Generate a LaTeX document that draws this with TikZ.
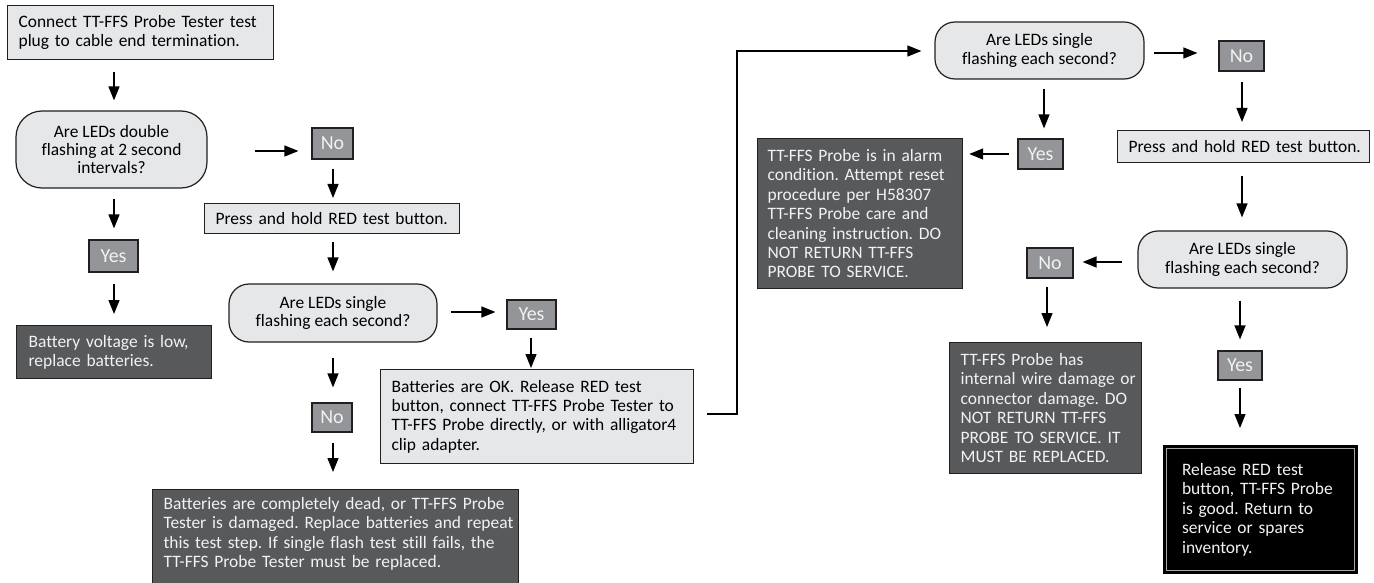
\documentclass[tikz,border=0pt]{standalone}
\usepackage{fontspec}
\setmainfont{Carlito}[Ligatures={NoCommon}]
\usetikzlibrary{arrows.meta}
\definecolor{lightfill}{HTML}{E6E7E8}
\definecolor{ynfill}{HTML}{939598}
\definecolor{darkfill}{HTML}{58595B}
\definecolor{edge}{HTML}{231F20}
\definecolor{lighttext}{HTML}{F1F2F2}
\newcommand{\oneline}[1]{\mbox{#1}}
\begin{document}
\frenchspacing
\begin{tikzpicture}[x=1bp,y=-1bp,
  base/.style={draw=edge, line width=1.2bp, inner ysep=0bp},
  txt/.style={font=\fontsize{17.5}{19.5}\selectfont\frenchspacing},
  lightbox/.style={base, txt, fill=lightfill, align=left, anchor=north west, inner xsep=11bp},
  darkbox/.style={base, txt, fill=darkfill, text=lighttext, align=left, anchor=north west, inner xsep=11bp},
  decision/.style={base, fill=lightfill, align=center, rounded corners=20bp, font=\fontsize{17.5}{18.5}\selectfont\frenchspacing},
  yn/.style={base, fill=ynfill, text=lighttext, inner sep=0bp, font=\fontsize{20}{20}\selectfont},
  arr/.style={-{Triangle[length=14bp,width=11bp]}, line width=1.3bp, black},
  gaps/.style 2 args={shorten <=#1bp, shorten >=#2bp},
]
\fill[white] (0,0) rectangle (1374,583);
\useasboundingbox (0,0) rectangle (1374,583);

% column / row guides
\coordinate (c1) at (114,0);
\coordinate (c2) at (333,0);
\coordinate (c3) at (531,0);
\coordinate (c4) at (1044,0);
\coordinate (c5) at (1242,0);
\coordinate (c6) at (1240,0);
\coordinate (c7) at (1047,0);
\coordinate (cl) at (737,0);
\coordinate (r1) at (0,151);
\coordinate (r2) at (0,312);
\coordinate (r3) at (0,154);
\coordinate (r4) at (0,53);
\coordinate (r5) at (0,262);
\coordinate (rl) at (0,414);
\coordinate (rt) at (0,51);

% left part
\node[lightbox, text width=244bp, minimum height=54bp] (box1) at (7,5)
  {\oneline{Connect TT-FFS Probe Tester test}\\\oneline{plug to cable end termination.}};
\node[decision, minimum width=191bp, minimum height=77bp, rounded corners=26bp] (d1) at (111.5,149.5)
  {Are LEDs double\\flashing at 2 second\\intervals?};
\node[yn, minimum width=41bp, minimum height=31bp] (no1) at (332.5,143.5) {No};
\node[yn, minimum width=49bp, minimum height=32bp] (yes1) at (113.5,256) {Yes};
\node[darkbox, text width=171bp, minimum height=53bp, inner xsep=12bp] (batt) at (16,325)
  {\oneline{Battery voltage is low,}\\\oneline{replace batteries.}};
\node[lightbox, text width=233bp, minimum height=30bp] (press1) at (204,203)
  {\oneline{Press and hold RED test button.}};
\node[decision, minimum width=208bp, minimum height=58bp] (d2) at (333,313)
  {Are LEDs single\\flashing each second?};
\node[yn, minimum width=49bp, minimum height=29bp] (yes2) at (531.5,314.5) {Yes};
\node[lightbox, text width=291bp, minimum height=94bp] (ok) at (380,369)
  {\oneline{Batteries are OK. Release RED test}\\\oneline{button, connect TT-FFS Probe Tester to}\\\oneline{TT-FFS Probe directly, or with alligator4}\\\oneline{clip adapter.}};
\node[yn, minimum width=40bp, minimum height=29bp] (no2) at (332,417.5) {No};
\node[darkbox, text width=344bp, inner ysep=7.5bp, text depth=85bp] (dead) at (152,489)
  {\oneline{Batteries are completely dead, or TT-FFS Probe}\\\oneline{Tester is damaged. Replace batteries and repeat}\\\oneline{this test step. If single flash test still fails, the}\\\oneline{TT-FFS Probe Tester must be replaced.}};

% right part
\node[decision, minimum width=209bp, minimum height=57bp] (d3) at (1039.5,50.5)
  {Are LEDs single\\flashing each second?};
\node[yn, minimum width=45bp, minimum height=30bp] (yes3) at (1040.5,154) {Yes};
\node[darkbox, text width=185bp, minimum height=150bp, inner xsep=10bp] (alarm) at (757,138)
  {\oneline{TT-FFS Probe is in alarm}\\\oneline{condition. Attempt reset}\\\oneline{procedure per H58307}\\\oneline{TT-FFS Probe care and}\\\oneline{cleaning instruction. DO}\\\oneline{NOT RETURN TT-FFS}\\\oneline{PROBE TO SERVICE.}};
\node[yn, minimum width=45bp, minimum height=30bp] (no3) at (1241.5,56) {No};
\node[lightbox, text width=230bp, minimum height=32bp] (press3) at (1117,130)
  {\oneline{Press and hold RED test button.}};
\node[decision, minimum width=209bp, minimum height=57bp] (d4) at (1242.5,259.5)
  {Are LEDs single\\flashing each second?};
\node[yn, minimum width=46bp, minimum height=30bp] (no4) at (1050,263) {No};
\node[darkbox, text width=170bp, minimum height=131bp] (damage) at (949,342)
  {\oneline{TT-FFS Probe has}\\\oneline{internal wire damage or}\\\oneline{connector damage. DO}\\\oneline{NOT RETURN TT-FFS}\\\oneline{PROBE TO SERVICE. IT}\\\oneline{MUST BE REPLACED.}};
\node[yn, minimum width=44bp, minimum height=29bp] (yes4) at (1240,365.5) {Yes};
\node[base, txt, fill=black, draw=black, line width=2bp, text=lighttext, align=left, anchor=north west,
      inner xsep=18bp, text width=157bp, minimum height=127bp] (blk) at (1163,445)
  {\oneline{Release RED test}\\\oneline{button, TT-FFS Probe}\\\oneline{is good. Return to}\\\oneline{service or spares}\\\oneline{inventory.}};
\draw[gray!70, line width=0.9bp] ([shift={(3.5bp,3.5bp)}]blk.south west) rectangle ([shift={(-3.5bp,-3.5bp)}]blk.north east);

% connectors
\draw[arr, gaps={12}{10}] (box1.south -| c1) -- (d1.north -| c1);
\draw[arr, gaps={47}{13}] (d1.east |- r1) -- (no1.west |- r1);
\draw[arr, gaps={9}{5}] (no1.south -| c2) -- (press1.north -| c2);
\draw[arr, gaps={8}{12}] (press1.south -| c2) -- (d2.north -| c2);
\draw[arr, gaps={10}{11}] (d1.south -| c1) -- (yes1.north -| c1);
\draw[arr, gaps={11}{11}] (yes1.south -| c1) -- (batt.north -| c1);
\draw[arr, gaps={13}{11}] (d2.east |- r2) -- (yes2.west |- r2);
\draw[arr, gaps={8}{1}] (yes2.south -| c3) -- (ok.north -| c3);
\draw[arr, gaps={15}{15}] (d2.south -| c2) -- (no2.north -| c2);
\draw[arr, gaps={10}{17}] (no2.south -| c2) -- (dead.north -| c2);
\draw[arr, gaps={9}{10}] (d3.south -| c4) -- (yes3.north -| c4);
\draw[arr, gaps={8}{6}] (yes3.west |- r3) -- (alarm.east |- r3);
\draw[arr, gaps={9}{21}] (d3.east |- r4) -- (no3.west |- r4);
\draw[arr, gaps={10}{8}] (no3.south -| c5) -- (press3.north -| c5);
\draw[arr, gaps={13}{13}] (press3.south -| c5) -- (d4.north -| c5);
\draw[arr, gaps={15}{9}] (d4.west |- r5) -- (no4.east |- r5);
\draw[arr, gaps={8}{15}] (no4.south -| c7) -- (damage.north -| c7);
\draw[arr, gaps={12}{11}] (d4.south -| c6) -- (yes4.north -| c6);
\draw[arr, gaps={7}{17}] (yes4.south -| c6) -- (blk.north -| c6);
\draw[arr, gaps={13}{13}] (ok.east |- rl) -- (cl |- rl) -- (cl |- rt) -- (d3.west |- rt);
\end{tikzpicture}
\end{document}
